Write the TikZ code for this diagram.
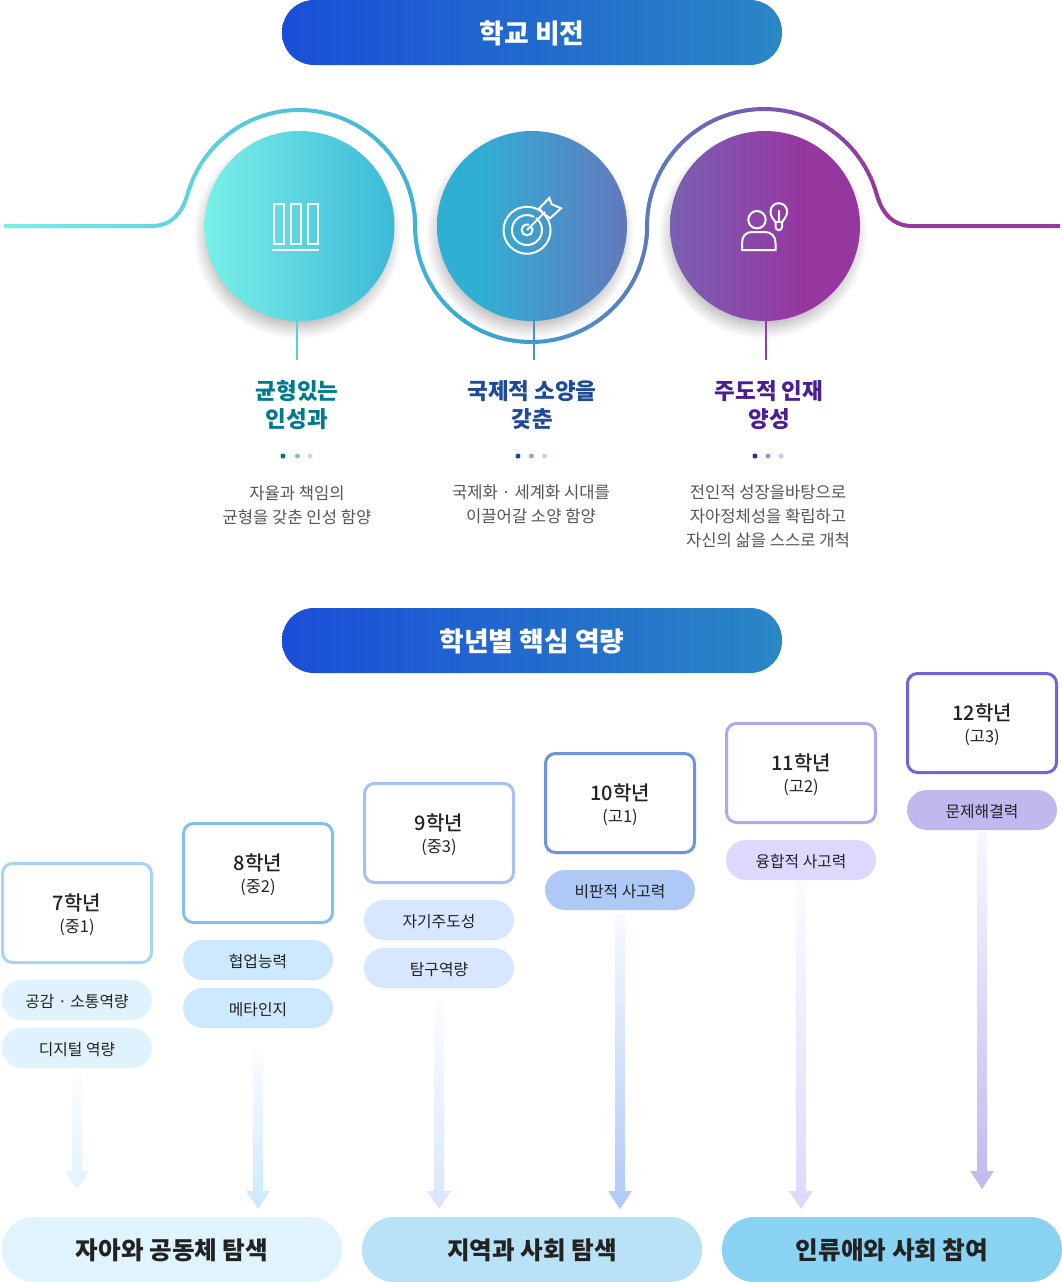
\documentclass[tikz,border=0pt]{standalone}
\usepackage{fontspec}
\setmainfont{Noto Sans CJK KR}
\newfontfamily\krmed{Noto Sans CJK KR Medium}
\usetikzlibrary{calc, positioning, shadows.blur}
\definecolor{hdrLeft}{HTML}{1A4ED8}
\definecolor{hdrRight}{HTML}{2A87C4}
\definecolor{waveA}{HTML}{7AEEE8}
\definecolor{waveB}{HTML}{36A8D4}
\definecolor{waveC}{HTML}{9538A0}
\definecolor{ballA}{HTML}{7AF0E8}
\definecolor{ballB}{HTML}{3CB9D8}
\definecolor{ballC}{HTML}{30AFD4}
\definecolor{ballD}{HTML}{6278BD}
\definecolor{ballE}{HTML}{7A60B3}
\definecolor{ballF}{HTML}{9637A0}
\definecolor{tealHead}{HTML}{007A8C}
\definecolor{blueHead}{HTML}{1D4A9A}
\definecolor{violetHead}{HTML}{4A1E94}
\definecolor{bodyGrey}{HTML}{555555}
\definecolor{inkDark}{HTML}{222222}
\definecolor{gradeA}{HTML}{A6D4F6}
\definecolor{gradeB}{HTML}{82C0EA}
\definecolor{gradeC}{HTML}{A7C0F3}
\definecolor{gradeD}{HTML}{6C94E0}
\definecolor{gradeE}{HTML}{B4A6EE}
\definecolor{gradeF}{HTML}{7561D8}
\definecolor{chipA}{HTML}{E1F2FF}
\definecolor{chipB}{HTML}{CCE9FF}
\definecolor{chipC}{HTML}{D9E6FF}
\definecolor{chipD}{HTML}{AFC9F6}
\definecolor{chipE}{HTML}{DDD8FD}
\definecolor{chipF}{HTML}{BFB9F0}
\definecolor{baseA}{HTML}{E0F4FF}
\definecolor{baseB}{HTML}{B9E2F6}
\definecolor{baseC}{HTML}{8BD3F3}
\pgfdeclarehorizontalshading{ballmid}{100bp}{color(0bp)=(ballC); color(36bp)=(ballC); color(75bp)=(ballD); color(100bp)=(ballD)}
\pgfdeclarehorizontalshading{ballend}{100bp}{color(0bp)=(ballE); color(25bp)=(ballE); color(60bp)=(ballF); color(100bp)=(ballF)}
\tikzset{
  hdrpill/.style   = {rounded corners=32pt, minimum width=500pt, minimum height=65pt, inner sep=0pt,
                      left color=hdrLeft, right color=hdrRight, text=white, text height=25.4pt, text depth=3pt,
                      font=\fontsize{26.8}{30}\selectfont\bfseries},
  ball/.style      = {circle, minimum size=190pt, inner sep=0pt,
                      blur shadow={shadow xshift=-2pt, shadow yshift=-9pt, shadow scale=0.96,
                                   shadow blur radius=14pt, shadow blur steps=25, shadow opacity=35}},
  icon/.style      = {white, line width=2pt},
  headtxt/.style   = {align=center, font=\fontsize{22.5}{28}\selectfont\bfseries},
  bodytxt/.style   = {align=center, bodyGrey, font=\fontsize{16.6}{24}\selectfont},
  gradebox/.style  = {draw=#1, line width=3pt, rounded corners=10pt, minimum width=149pt, minimum height=99pt,
                      inner sep=0pt, align=center, text=inkDark},
  chip/.style      = {fill=#1, rounded corners=20pt, minimum width=150pt, minimum height=40pt, inner sep=0pt,
                      text=inkDark, text height=15pt, text depth=1pt, font=\fontsize{15.8}{18}\selectfont},
  basepill/.style  = {fill=#1, rounded corners=32pt, minimum width=340pt, minimum height=65pt, inner sep=0pt,
                      text=inkDark, text height=22.6pt, text depth=3pt, font=\fontsize{24.6}{28}\selectfont\bfseries},
}
\newcommand{\gradetxt}[2]{{\krmed\fontsize{20}{24}\selectfont\rule{0pt}{21pt}#1}\\[6pt]{\fontsize{16.4}{18}\selectfont #2}}
\newcommand{\wavepath}{(4,-226) -- (152,-226) .. controls (172,-226) and (182,-212) .. (187,-196)
  arc (165:0:116) arc (180:360:116) arc (180:15:117)
  .. controls (882,-212) and (892,-226) .. (912,-226) -- (1060,-226)}
\newcommand{\fadebar}[2]{\shade[top color=#2!10, middle color=#2!75, bottom color=#2]
  ($(#1)+(-5,0)$) -- ($(#1)+(5,0)$) -- ($(tip#1)+(5,18)$) -- ($(tip#1)+(12,18)$)
  -- (tip#1) -- ($(tip#1)+(-12,18)$) -- ($(tip#1)+(-5,18)$) -- cycle;}
\begin{document}
\begin{tikzpicture}[x=1pt,y=1pt]
  \useasboundingbox (0,0) rectangle (1062,-1282);

  % top header
  \node[hdrpill] (vision) at (532,-32.5) {학교 비전};

  % wave behind the balls
  \foreach \i in {0,8,...,480}{
    \pgfmathsetmacro\pct{\i/480*100}
    \colorlet{wavecol}{waveB!\pct!waveA}
    \begin{scope}
      \clip (\i,-100) rectangle (\i+8.6,-350);
      \draw[wavecol, line width=4pt] \wavepath;
    \end{scope}
  }
  \foreach \i in {488,496,...,1056}{
    \pgfmathsetmacro\pct{min(100,(\i-480)/400*100)}
    \colorlet{wavecol}{waveC!\pct!waveB}
    \begin{scope}
      \clip (\i,-100) rectangle (\i+8.6,-350);
      \draw[wavecol, line width=4pt] \wavepath;
    \end{scope}
  }

  % leader lines
  \coordinate (lead1) at (297,-360);
  \coordinate (lead2) at (534,-360);
  \coordinate (lead3) at (766,-360);

  % balls
  \node[ball, left color=ballA, right color=ballB] (ball1) at (299.5,-226) {};
  \node[ball, shading=ballmid] (ball2) at (532,-226) {};
  \node[ball, shading=ballend] (ball3) at (765,-226) {};
  \draw[ballB!60!ballA, line width=1.5pt] (lead1 |- ball1.south) -- (lead1);
  \draw[waveB!80!waveC, line width=1.5pt] (lead2 |- ball2.south) -- (lead2);
  \draw[waveC!90!ballD, line width=1.5pt] (lead3 |- ball3.south) -- (lead3);

  % icon: bars
  \draw[icon] (274,-204) rectangle (284,-244);
  \draw[icon] (291,-204) rectangle (301,-244);
  \draw[icon] (308,-204) rectangle (318,-244);
  \draw[icon] (272,-250) -- (319,-250);

  % icon: target
  \draw[icon] (540.5,-211) arc (55:-305:23.5);
  \draw[icon] (536,-218) arc (53:-298:15);
  \draw[icon] (531,-226) arc (45:-290:5.5);
  \draw[icon] (527,-230) -- (545,-212);
  \draw[icon, line join=miter] (539.3,-208.3) -- (549.3,-198) -- (551.7,-204.3) -- (561,-208.3)
    -- (550,-218.3) -- (543,-213) -- cycle;

  % icon: person and bulb
  \draw[icon] (757,-219.7) circle (8.7);
  \draw[icon] (742,-250) -- (775.5,-250) -- (775.5,-243) .. controls (775.5,-236) and (771,-232) .. (765,-232)
    -- (752,-232) .. controls (746,-232) and (742,-236) .. (742,-243) -- cycle;
  \draw[icon] (775.5,-222) .. controls (773,-219) and (770.5,-216) .. (770.5,-211.5)
    arc (180:0:8.3) .. controls (787,-216) and (784.5,-219) .. (782,-222)
    -- (782,-227) arc (0:-180:3.2) -- cycle;
  \draw[icon] (775.5,-222) -- (782,-222);
  \draw[icon] (778.8,-210) -- (778.8,-222);

  % headings
  \node[headtxt, tealHead] (head1) at (297,-405) {균형있는\\인성과};
  \node[headtxt, blueHead] (head2) at (532,-405) {국제적 소양을\\갖춘};
  \node[headtxt, violetHead] (head3) at (769,-405) {주도적 인재\\양성};

  % dots
  \fill[tealHead] (283,-456) circle (2.5);
  \fill[tealHead, opacity=0.5] (297.5,-456) circle (2.5);
  \fill[tealHead, opacity=0.25] (310,-456) circle (2.5);
  \fill[blueHead] (518,-456) circle (2.5);
  \fill[blueHead, opacity=0.5] (531.5,-456) circle (2.5);
  \fill[blueHead, opacity=0.25] (544.5,-456) circle (2.5);
  \fill[violetHead] (755,-456) circle (2.5);
  \fill[violetHead, opacity=0.5] (768,-456) circle (2.5);
  \fill[violetHead, opacity=0.25] (781,-456) circle (2.5);

  % body text
  \node[bodytxt] (desc1) at (297,-505) {자율과 책임의\\균형을 갖춘 인성 함양};
  \node[bodytxt] (desc2) at (531,-504.5) {국제화 · 세계화 시대를\\이끌어갈 소양 함양};
  \node[bodytxt] (desc3) at (768,-516) {전인적 성장을바탕으로\\자아정체성을 확립하고\\자신의 삶을 스스로 개척};

  % second header
  \node[hdrpill] (grades) at (532,-640.5) {학년별 핵심 역량};

  % grade boxes
  \node[gradebox=gradeA] (g7) at (77,-913) {\gradetxt{7학년}{(중1)}};
  \node[gradebox=gradeB] (g8) at (258,-873) {\gradetxt{8학년}{(중2)}};
  \node[gradebox=gradeC] (g9) at (439,-833) {\gradetxt{9학년}{(중3)}};
  \node[gradebox=gradeD] (g10) at (620,-803) {\gradetxt{10학년}{(고1)}};
  \node[gradebox=gradeE] (g11) at (801,-773) {\gradetxt{11학년}{(고2)}};
  \node[gradebox=gradeF] (g12) at (982,-723) {\gradetxt{12학년}{(고3)}};

  % chips
  \node[chip=chipA] (c7a) at (77,-1000) {공감 · 소통역량};
  \node[chip=chipA] (c7b) at (77,-1048) {디지털 역량};
  \node[chip=chipB] (c8a) at (258,-960) {협업능력};
  \node[chip=chipB] (c8b) at (258,-1008) {메타인지};
  \node[chip=chipC] (c9a) at (439,-920) {자기주도성};
  \node[chip=chipC] (c9b) at (439,-968) {탐구역량};
  \node[chip=chipD] (c10a) at (620,-890) {비판적 사고력};
  \node[chip=chipE] (c11a) at (801,-860) {융합적 사고력};
  \node[chip=chipF] (c12a) at (982,-810) {문제해결력};

  % bottom pills
  \node[basepill=baseA] (base1) at (172,-1249.5) {자아와 공동체 탐색};
  \node[basepill=baseB] (base2) at (532,-1249.5) {지역과 사회 탐색};
  \node[basepill=baseC] (base3) at (892,-1249.5) {인류애와 사회 참여};

  % fading arrows
  \coordinate (bar7) at (77,-1070);   \coordinate (tipbar7) at (77,-1189);
  \coordinate (bar8) at (258,-1050);  \coordinate (tipbar8) at (258,-1209);
  \coordinate (bar9) at (439,-1000);  \coordinate (tipbar9) at (439,-1209);
  \coordinate (bar10) at (620,-915);  \coordinate (tipbar10) at (620,-1209);
  \coordinate (bar11) at (801,-882);  \coordinate (tipbar11) at (801,-1209);
  \coordinate (bar12) at (982,-830);  \coordinate (tipbar12) at (982,-1189);
  \fadebar{bar7}{chipA}
  \fadebar{bar8}{chipB}
  \fadebar{bar9}{chipC}
  \fadebar{bar10}{chipD}
  \fadebar{bar11}{chipE}
  \fadebar{bar12}{chipF}
\end{tikzpicture}
\end{document}
